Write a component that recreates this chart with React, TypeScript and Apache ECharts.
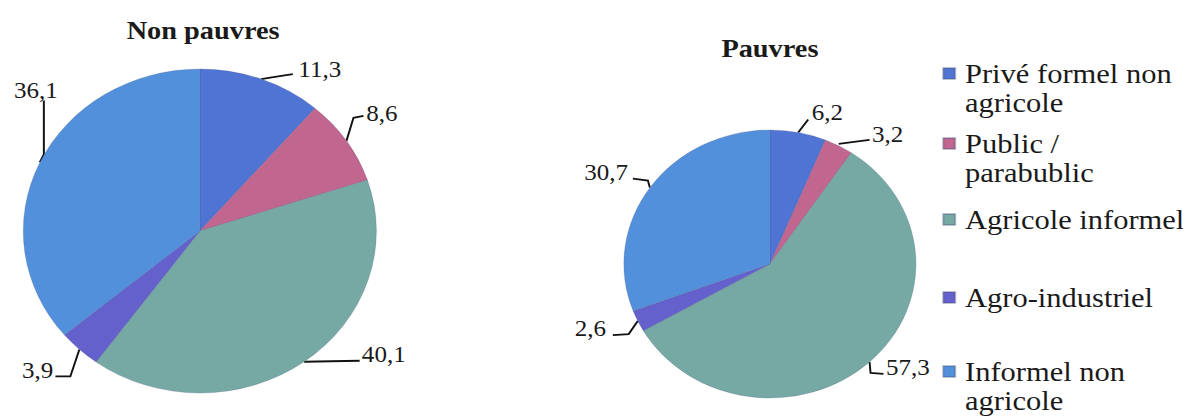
import React, { useEffect, useRef } from "react";
import * as echarts from "echarts";

const categories = [
  "Privé formel non agricole",
  "Public / parabublic",
  "Agricole informel",
  "Agro-industriel",
  "Informel non agricole",
];
const legendLabels = [
  "Privé formel non\nagricole",
  "Public /\nparabublic",
  "Agricole informel",
  "Agro-industriel",
  "Informel non\nagricole",
];
const nonPauvres = [11.3, 8.6, 40.1, 3.9, 36.1];
const pauvres = [6.2, 3.2, 57.3, 2.6, 30.7];
const colors = ["#4f74d4", "#c0668f", "#76a9a4", "#6460cc", "#5390dc"];

const FONT = "Liberation Serif";
const STRETCH = 1.09;

// label placement relative to the slice's outer edge point (style only)
type LP = { line: number[][]; dx: number; dy: number; align: string };
const labelPlacement: LP[][] = [
  [
    { line: [[0, 0], [14, -2.5], [29, -5]], dx: 34, dy: -10, align: "left" },
    { line: [[0, 0], [6.4, -23], [15.6, -25]], dx: 18, dy: -27, align: "left" },
    { line: [[0, 0], [25, -0.5], [51, -1]], dx: 53, dy: -7, align: "left" },
    { line: [[0, 0], [-8.3, 27], [-22, 27]], dx: -24, dy: 20.5, align: "right" },
    { line: [[0, 0], [3.7, -8], [3.7, -62]], dx: -3.6, dy: -72, align: "center" },
  ],
  [
    { line: [[0, 0], [4.6, -6.5], [9.2, -13]], dx: 12.5, dy: -20.5, align: "left" },
    { line: [[0, -2], [14, -4], [28.4, -6]], dx: 30.5, dy: -11, align: "left" },
    { line: [[0, 0], [0.9, 11], [12.8, 12]], dx: 15, dy: 5, align: "left" },
    { line: [[0, 0], [-8.3, 13], [-22.9, 14]], dx: -29, dy: 7, align: "right" },
    { line: [[0, 0], [-1.8, -7], [-15.6, -9]], dx: -20, dy: -15, align: "right" },
  ],
];

const legendTops = [22, 92, 197, 275, 320];

export default function App() {
  const ref = useRef<HTMLDivElement>(null);
  useEffect(() => {
    if (!ref.current) return;
    const chart = echarts.init(ref.current, null, { renderer: "svg" });
    const fmt = (p: any) => String(p.value).replace(".", ",");
    const mk = (vals: number[]) =>
      categories.map((c, i) => ({ name: c, value: vals[i], itemStyle: { color: colors[i] } }));
    const labelLayout = (p: any) => {
      const pl = labelPlacement[p.seriesIndex][p.dataIndex];
      const e = p.labelLinePoints ? p.labelLinePoints[0] : [0, 0];
      return {
        x: e[0] + pl.dx,
        y: e[1] + pl.dy,
        align: pl.align,
        verticalAlign: "middle",
        labelLinePoints: pl.line.map((q) => [e[0] + q[0], e[1] + q[1]]),
      };
    };
    const labelStyle = {
      formatter: fmt,
      fontFamily: FONT,
      fontSize: 23,
      color: "#1a1a1a",
      overflow: "none",
      bleedMargin: 0,
    };
    chart.setOption({
      animation: false,
      backgroundColor: "#ffffff",
      title: [
        {
          text: "Non pauvres",
          left: 174,
          top: 4,
          textAlign: "center",
          textStyle: { fontFamily: FONT, fontSize: 26, fontWeight: "bold", color: "#1a1a1a" },
        },
        {
          text: "Pauvres",
          left: 694,
          top: 22,
          textAlign: "center",
          textStyle: { fontFamily: FONT, fontSize: 26, fontWeight: "bold", color: "#1a1a1a" },
        },
      ],
      legend: categories.map((c, i) => {
        const twoLines = legendLabels[i].indexOf("\n") >= 0;
        return {
          data: [c],
          orient: "vertical",
          left: 857,
          top: legendTops[i],
          padding: 0,
          icon: "rect",
          itemWidth: 11,
          itemHeight: 11,
          selectedMode: false,
          formatter: () => (twoLines ? "\n" : "") + legendLabels[i],
          textStyle: {
            fontFamily: FONT,
            fontSize: 28,
            color: "#1a1a1a",
            lineHeight: 29,
            padding: [0, 0, 0, 4],
          },
        };
      }),
      series: [
        {
          type: "pie",
          center: [176, 223],
          radius: 162,
          startAngle: 90,
          clockwise: true,
          avoidLabelOverlap: false,
          data: mk(nonPauvres),
          itemStyle: { borderColor: "rgba(70,80,120,0.35)", borderWidth: 0.6 },
          label: labelStyle,
          labelLine: { show: true, lineStyle: { color: "#111", width: 1.8 } },
          labelLayout,
        },
        {
          type: "pie",
          center: [699, 256],
          radius: 134,
          startAngle: 90,
          clockwise: true,
          avoidLabelOverlap: false,
          data: mk(pauvres),
          itemStyle: { borderColor: "rgba(70,80,120,0.35)", borderWidth: 0.6 },
          label: labelStyle,
          labelLine: { show: true, lineStyle: { color: "#111", width: 1.8 } },
          labelLayout,
        },
      ],
    });
    return () => chart.dispose();
  }, []);
  return (
    <div
      ref={ref}
      style={{
        width: Math.round(1175 / STRETCH),
        height: 410,
        transform: `scaleX(${STRETCH})`,
        transformOrigin: "0 0",
      }}
    />
  );
}
